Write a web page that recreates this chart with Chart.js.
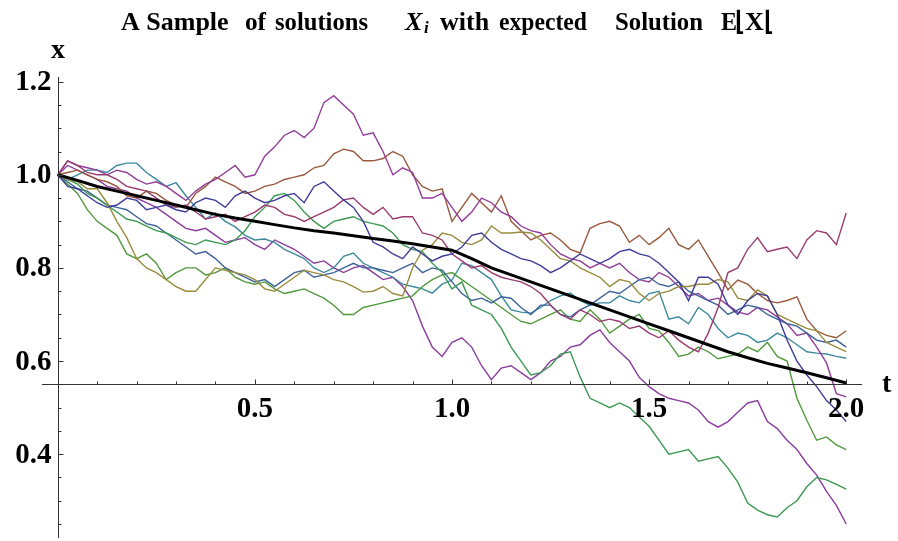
<!DOCTYPE html>
<html>
<head>
<meta charset="utf-8">
<script src="https://cdn.jsdelivr.net/npm/chart.js@4.4.1/dist/chart.umd.min.js"></script>
<style>
  html, body { margin: 0; padding: 0; background: #fff; }
</style>
</head>
<body>
<canvas id="myChart" width="898" height="541"></canvas>
<script>
// time grids: 0.05 for E[X], 0.025 for the sample paths
const tCoarse = [0, 0.05, 0.1, 0.15, 0.2, 0.25, 0.3, 0.35, 0.4, 0.45, 0.5, 0.55, 0.6, 0.65, 0.7, 0.75, 0.8, 0.85, 0.9, 0.95,
  1.0, 1.05, 1.1, 1.15, 1.2, 1.25, 1.3, 1.35, 1.4, 1.45, 1.5, 1.55, 1.6, 1.65, 1.7, 1.75, 1.8, 1.85, 1.9, 1.95, 2.0];
const tFine = [0, 0.025, 0.05, 0.075, 0.1, 0.125, 0.15, 0.175, 0.2, 0.225,
  0.25, 0.275, 0.3, 0.325, 0.35, 0.375, 0.4, 0.425, 0.45, 0.475,
  0.5, 0.525, 0.55, 0.575, 0.6, 0.625, 0.65, 0.675, 0.7, 0.725,
  0.75, 0.775, 0.8, 0.825, 0.85, 0.875, 0.9, 0.925, 0.95, 0.975,
  1.0, 1.025, 1.05, 1.075, 1.1, 1.125, 1.15, 1.175, 1.2, 1.225,
  1.25, 1.275, 1.3, 1.325, 1.35, 1.375, 1.4, 1.425, 1.45, 1.475,
  1.5, 1.525, 1.55, 1.575, 1.6, 1.625, 1.65, 1.675, 1.7, 1.725,
  1.75, 1.775, 1.8, 1.825, 1.85, 1.875, 1.9, 1.925, 1.95, 1.975, 2.0];

// expected solution E[X]
const meanX = [1.0, 0.988, 0.975, 0.965, 0.955, 0.945, 0.935, 0.925, 0.915, 0.907, 0.90, 0.893, 0.886, 0.88, 0.875, 0.869, 0.863, 0.858, 0.852, 0.845,
  0.838, 0.82, 0.80, 0.785, 0.77, 0.755, 0.74, 0.725, 0.71, 0.695, 0.68, 0.665, 0.65, 0.635, 0.62, 0.607, 0.595, 0.585, 0.575, 0.564, 0.553];

// sample paths X_i
const pathBlue = [1.0, 0.975, 0.97, 0.955, 0.94, 0.93, 0.935, 0.95, 0.945, 0.925,
  0.93, 0.935, 0.925, 0.92, 0.94, 0.95, 0.945, 0.93, 0.955, 0.965,
  0.95, 0.94, 0.945, 0.955, 0.96, 0.94, 0.975, 0.985, 0.965, 0.946,
  0.93, 0.90, 0.855, 0.845, 0.83, 0.82, 0.845, 0.83, 0.815, 0.825,
  0.83, 0.845, 0.87, 0.875, 0.855, 0.84, 0.83, 0.82, 0.815, 0.805,
  0.79, 0.80, 0.815, 0.83, 0.82, 0.81, 0.82, 0.835, 0.84, 0.83,
  0.825, 0.81, 0.79, 0.77, 0.73, 0.78, 0.78, 0.765, 0.72, 0.70,
  0.73, 0.745, 0.74, 0.70, 0.645, 0.60, 0.57, 0.545, 0.515, 0.495, 0.47];
const pathMagenta = [1.0, 1.03, 1.02, 1.005, 1.0, 1.0, 0.99, 0.975, 0.97, 0.965,
  0.95, 0.935, 0.93, 0.935, 0.92, 0.905, 0.91, 0.915, 0.90, 0.91,
  0.92, 0.935, 0.93, 0.915, 0.91, 0.90, 0.91, 0.92, 0.93, 0.946,
  0.95, 0.93, 0.915, 0.93, 0.905, 0.91, 0.91, 0.875, 0.87, 0.86,
  0.83, 0.815, 0.80, 0.805, 0.79, 0.78, 0.775, 0.77, 0.76, 0.745,
  0.72, 0.70, 0.69, 0.71, 0.70, 0.685, 0.69, 0.685, 0.67, 0.675,
  0.66, 0.65, 0.665, 0.645, 0.63, 0.62, 0.66, 0.715, 0.79, 0.80,
  0.84, 0.865, 0.835, 0.84, 0.845, 0.82, 0.86, 0.88, 0.875, 0.85, 0.918];
const pathOlive = [1.0, 0.99, 0.985, 0.97, 0.97, 0.94, 0.90, 0.865, 0.82, 0.80,
  0.79, 0.775, 0.76, 0.75, 0.75, 0.775, 0.80, 0.795, 0.79, 0.785,
  0.775, 0.755, 0.75, 0.765, 0.78, 0.795, 0.79, 0.785, 0.775, 0.77,
  0.76, 0.748, 0.75, 0.76, 0.745, 0.74, 0.80, 0.838, 0.85, 0.875,
  0.87, 0.855, 0.85, 0.86, 0.89, 0.875, 0.875, 0.877, 0.875, 0.86,
  0.84, 0.82, 0.815, 0.80, 0.79, 0.78, 0.76, 0.775, 0.77, 0.745,
  0.73, 0.745, 0.75, 0.76, 0.76, 0.765, 0.765, 0.775, 0.77, 0.735,
  0.73, 0.753, 0.74, 0.70, 0.69, 0.68, 0.67, 0.665, 0.64, 0.63, 0.62];
const pathGreenHigh = [1.0, 0.99, 0.98, 0.96, 0.95, 0.935, 0.92, 0.905, 0.90, 0.89,
  0.88, 0.875, 0.865, 0.855, 0.85, 0.86, 0.855, 0.85, 0.86, 0.88,
  0.91, 0.93, 0.955, 0.96, 0.945, 0.92, 0.90, 0.885, 0.90, 0.905,
  0.91, 0.90, 0.895, 0.89, 0.875, 0.85, 0.84, 0.835, 0.81, 0.79,
  0.755, 0.77, 0.72, 0.71, 0.70, 0.67, 0.63, 0.60, 0.57, 0.575,
  0.59, 0.615, 0.62, 0.566, 0.52, 0.51, 0.50, 0.51, 0.50, 0.48,
  0.46, 0.43, 0.40, 0.405, 0.41, 0.385, 0.39, 0.395, 0.37, 0.34,
  0.295, 0.28, 0.27, 0.265, 0.285, 0.30, 0.33, 0.35, 0.345, 0.335, 0.325];
const pathSteel = [1.0, 0.985, 0.97, 0.965, 0.95, 0.935, 0.93, 0.925, 0.91, 0.895,
  0.89, 0.875, 0.86, 0.845, 0.83, 0.835, 0.82, 0.80, 0.79, 0.78,
  0.77, 0.775, 0.76, 0.775, 0.79, 0.795, 0.78, 0.785, 0.79, 0.80,
  0.81, 0.80, 0.80, 0.795, 0.79, 0.80, 0.81, 0.79, 0.80, 0.795,
  0.77, 0.745, 0.73, 0.735, 0.725, 0.738, 0.735, 0.715, 0.70, 0.72,
  0.72, 0.70, 0.695, 0.71, 0.72, 0.735, 0.75, 0.745, 0.76, 0.775,
  0.78, 0.765, 0.76, 0.77, 0.75, 0.74, 0.73, 0.72, 0.70, 0.71,
  0.72, 0.715, 0.70, 0.69, 0.68, 0.675, 0.66, 0.645, 0.64, 0.645, 0.63];
const pathPurpleHigh = [1.0, 1.03, 1.02, 1.015, 1.01, 1.0, 1.01, 1.005, 0.99, 0.98,
  0.985, 0.975, 0.96, 0.945, 0.965, 0.98, 0.99, 1.005, 1.02, 0.995,
  1.0, 1.04, 1.06, 1.085, 1.095, 1.08, 1.10, 1.155, 1.17, 1.15,
  1.13, 1.085, 1.09, 1.05, 1.0, 1.015, 1.005, 0.95, 0.95, 0.96,
  0.93, 0.90, 0.92, 0.95, 0.94, 0.92, 0.91, 0.89, 0.88, 0.875,
  0.85, 0.83, 0.82, 0.815, 0.80, 0.81, 0.80, 0.81, 0.79, 0.775,
  0.77, 0.79, 0.78, 0.76, 0.74, 0.745, 0.73, 0.735, 0.72, 0.705,
  0.70, 0.715, 0.71, 0.695, 0.68, 0.655, 0.66, 0.63, 0.596, 0.53, 0.523];
const pathBrown = [1.0, 1.005, 1.01, 1.0, 0.99, 0.985, 0.975, 0.955, 0.95, 0.965,
  0.96, 0.945, 0.935, 0.93, 0.96, 0.975, 0.995, 0.985, 0.975, 0.96,
  0.965, 0.975, 0.98, 0.99, 0.995, 1.0, 1.015, 1.02, 1.045, 1.055,
  1.05, 1.03, 1.03, 1.035, 1.05, 1.04, 1.0, 0.975, 0.965, 0.97,
  0.90, 0.93, 0.96, 0.94, 0.92, 0.955, 0.90, 0.88, 0.86, 0.87,
  0.875, 0.86, 0.84, 0.832, 0.885, 0.895, 0.90, 0.89, 0.855, 0.87,
  0.85, 0.865, 0.885, 0.85, 0.84, 0.86, 0.825, 0.79, 0.753, 0.774,
  0.765, 0.745, 0.73, 0.725, 0.73, 0.738, 0.69, 0.665, 0.655, 0.65, 0.665];
const pathGreenLow = [1.0, 0.98, 0.96, 0.925, 0.90, 0.885, 0.87, 0.83, 0.82, 0.83,
  0.81, 0.775, 0.79, 0.80, 0.80, 0.785, 0.79, 0.80, 0.78, 0.77,
  0.765, 0.77, 0.755, 0.745, 0.75, 0.755, 0.745, 0.735, 0.72, 0.70,
  0.70, 0.715, 0.72, 0.725, 0.73, 0.735, 0.74, 0.76, 0.775, 0.785,
  0.79, 0.775, 0.76, 0.745, 0.73, 0.715, 0.70, 0.685, 0.68, 0.69,
  0.70, 0.71, 0.69, 0.685, 0.71, 0.69, 0.66, 0.675, 0.69, 0.70,
  0.67, 0.665, 0.64, 0.61, 0.615, 0.63, 0.62, 0.605, 0.61, 0.615,
  0.63, 0.62, 0.64, 0.61, 0.60, 0.52, 0.473, 0.43, 0.437, 0.42, 0.41];
const pathTeal = [1.0, 0.99, 1.0, 1.01, 1.01, 1.005, 1.02, 1.025, 1.025, 1.005,
  0.99, 0.975, 0.983, 0.955, 0.93, 0.905, 0.918, 0.90, 0.888, 0.87,
  0.86, 0.862, 0.855, 0.84, 0.83, 0.82, 0.80, 0.79, 0.80, 0.825,
  0.832, 0.81, 0.80, 0.79, 0.78, 0.765, 0.76, 0.755, 0.746, 0.765,
  0.774, 0.81, 0.805, 0.79, 0.775, 0.74, 0.71, 0.705, 0.703, 0.715,
  0.73, 0.74, 0.746, 0.73, 0.72, 0.725, 0.725, 0.74, 0.73, 0.725,
  0.745, 0.75, 0.69, 0.695, 0.68, 0.715, 0.70, 0.67, 0.65, 0.66,
  0.655, 0.64, 0.645, 0.66, 0.65, 0.635, 0.62, 0.617, 0.615, 0.61, 0.606];
const pathPurpleLow = [1.0, 1.02, 1.01, 1.0, 0.99, 0.975, 0.97, 0.965, 0.95, 0.94,
  0.93, 0.915, 0.90, 0.885, 0.88, 0.885, 0.87, 0.855, 0.86, 0.865,
  0.85, 0.84, 0.86, 0.85, 0.84, 0.825, 0.81, 0.815, 0.80, 0.79,
  0.80, 0.805, 0.79, 0.775, 0.78, 0.76, 0.73, 0.675, 0.63, 0.61,
  0.64, 0.65, 0.63, 0.59, 0.56, 0.585, 0.59, 0.575, 0.56, 0.575,
  0.60, 0.61, 0.63, 0.635, 0.655, 0.667, 0.64, 0.62, 0.60, 0.565,
  0.545, 0.53, 0.52, 0.515, 0.51, 0.495, 0.47, 0.458, 0.47, 0.49,
  0.51, 0.515, 0.47, 0.455, 0.43, 0.41, 0.38, 0.355, 0.32, 0.29, 0.25];

const paths = [pathBlue, pathMagenta, pathOlive, pathGreenHigh, pathSteel, pathPurpleHigh, pathBrown, pathGreenLow, pathTeal, pathPurpleLow];
const pathColors = ['#3f3d99', '#993d71', '#998d3d', '#3d9952', '#3d6399', '#933d99', '#99593d', '#52993d', '#3d8a9e', '#8a3d9e'];

const xTickLabels = ['0.5', '1.0', '1.5', '2.0'];
const yTickLabels = ['0.4', '0.6', '0.8', '1.0', '1.2'];

const toPoints = (ts, arr) => arr.map((v, i) => ({ x: ts[i], y: v }));

const datasets = [{
  data: toPoints(tCoarse, meanX),
  borderColor: '#000',
  borderWidth: 3
}].concat(paths.map((p, i) => ({
  data: toPoints(tFine, p),
  borderColor: pathColors[i],
  borderWidth: 1.4
})));

const serif = '"Liberation Serif", "Times New Roman", serif';

// axes crossing at (0, 0.55) with ticks drawn inward, Mathematica-style
const axesPlugin = {
  id: 'axes',
  afterDraw(chart) {
    const ctx = chart.ctx;
    const xs = chart.scales.x, ys = chart.scales.y;
    const area = chart.chartArea;
    const x0 = Math.round(xs.getPixelForValue(0)) + 0.5;
    const y0 = Math.round(ys.getPixelForValue(0.55)) + 0.5;
    ctx.save();
    ctx.strokeStyle = '#333';
    ctx.lineWidth = 1;
    ctx.beginPath();
    ctx.moveTo(area.left, y0); ctx.lineTo(area.right, y0);
    ctx.moveTo(x0, area.top); ctx.lineTo(x0, area.bottom);
    // x ticks
    for (let k = 1; k <= 20; k++) {
      const px = Math.round(xs.getPixelForValue(k / 10)) + 0.5;
      const len = k % 5 === 0 ? 5 : 3;
      ctx.moveTo(px, y0); ctx.lineTo(px, y0 - len);
    }
    // y ticks
    for (let k = 5; k <= 24; k++) {
      const v = k / 20;
      if (k === 11) continue;
      const py = Math.round(ys.getPixelForValue(v)) + 0.5;
      const len = k % 4 === 0 ? 5 : 3;
      ctx.moveTo(x0, py); ctx.lineTo(x0 + len, py);
    }
    ctx.stroke();

    ctx.fillStyle = '#000';
    ctx.font = 'bold 29px ' + serif;
    ctx.textAlign = 'center';
    ctx.textBaseline = 'alphabetic';
    xTickLabels.forEach(l => {
      ctx.fillText(l, xs.getPixelForValue(parseFloat(l)), y0 + 32);
    });
    ctx.textAlign = 'right';
    ctx.textBaseline = 'middle';
    yTickLabels.forEach(l => {
      ctx.fillText(l, x0 - 7, ys.getPixelForValue(parseFloat(l)) + 1);
    });
    // axis names
    ctx.textAlign = 'left';
    ctx.textBaseline = 'alphabetic';
    ctx.font = 'bold 28px ' + serif;
    ctx.fillText('t', 882, 392);
    ctx.fillText('x', 51, 58);

    // title, word by word (Mathematica spacing)
    const y = 30;
    const word = (s, x, w, font) => {
      ctx.font = font || 'bold 26px ' + serif;
      ctx.fillText(s, x, y, w);
    };
    word('A Sample', 121, 111);
    word('of', 245, 21);
    word('solutions', 275, 93);
    word('X', 405, 20, 'italic bold 26px ' + serif);
    ctx.font = 'italic bold 17px ' + serif;
    ctx.fillText('i', 424, y + 3);
    word('with', 440, 50);
    word('expected', 499, 88);
    word('Solution', 615, 88);
    word('E', 721, 16);
    word('\u230AX\u230A', 735, 48);
    ctx.restore();
  }
};

new Chart(document.getElementById('myChart'), {
  type: 'line',
  data: { datasets },
  options: {
    responsive: false,
    animation: false,
    devicePixelRatio: 1,
    layout: { padding: { left: 42, right: 36, top: 77, bottom: 3 } },
    elements: { point: { radius: 0 }, line: { tension: 0 } },
    plugins: { legend: { display: false }, tooltip: { enabled: false }, title: { display: false } },
    scales: {
      x: { type: 'linear', min: -0.04, max: 2.04, display: false },
      y: { type: 'linear', min: 0.22, max: 1.21, display: false }
    }
  },
  plugins: [axesPlugin]
});
</script>
</body>
</html>
